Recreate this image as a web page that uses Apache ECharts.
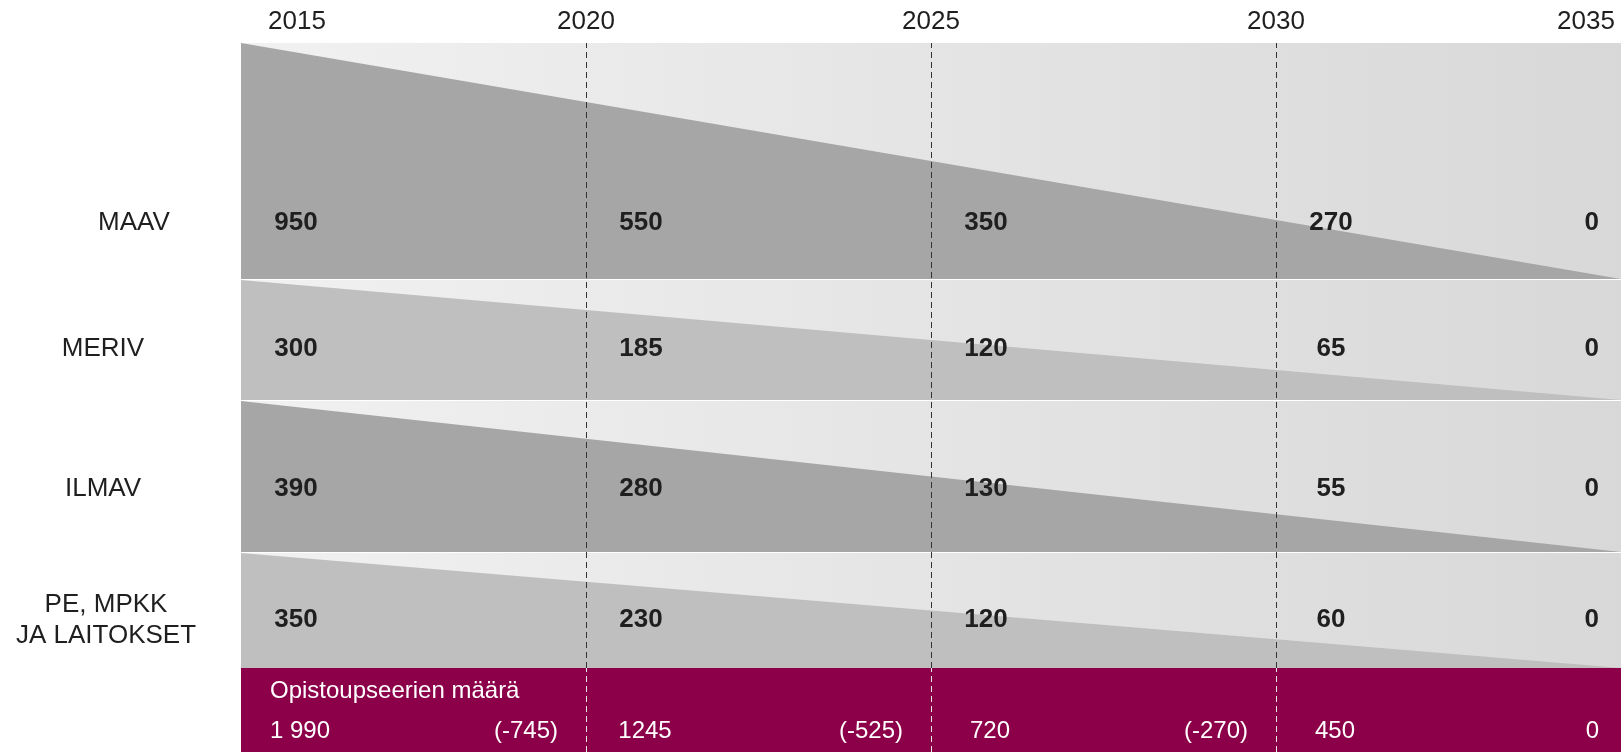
<!DOCTYPE html>
<html><head><meta charset="utf-8">
<script src="https://cdn.jsdelivr.net/npm/echarts@6/dist/echarts.min.js"></script>
<style>html,body{margin:0;padding:0;background:#fff}#c{width:1624px;height:752px}</style>
</head><body><div id="c"></div>
<script>
// ---- data ----
const years = [2015, 2020, 2025, 2030, 2035];
const rowNames = ['MAAV', 'MERIV', 'ILMAV', 'PE, MPKK\nJA LAITOKSET'];
const maav  = [950, 550, 350, 270, 0];
const meriv = [300, 185, 120, 65, 0];
const ilmav = [390, 280, 130, 55, 0];
const pe    = [350, 230, 120, 60, 0];
const totalTitle = 'Opistoupseerien määrä';
const totalLabels = ['1 990', '1245', '720', '450', '0'];
const changes = [-745, -525, -270];

// ---- layout / style ----
const rowValues = [maav, meriv, ilmav, pe];
const FONT = '"Liberation Sans", Arial, sans-serif';
const TXT = '#1f1f1f';
const LEFT = 241, RIGHT = 3;
const bands = [
  {top: 43,  height: 236, color: '#a6a6a6', level: 0.237, nameDx: -107},
  {top: 280, height: 120, color: '#bfbfbf', level: 0.425, nameDx: -138},
  {top: 401, height: 151, color: '#a6a6a6', level: 0.417, nameDx: -138},
  {top: 553, height: 115, color: '#bfbfbf', level: 0.417, nameDx: -135}
];
const bgGrad = {type: 'linear', x: 0, y: 0, x2: 1, y2: 0,
  colorStops: [{offset: 0, color: '#f1f1f1'}, {offset: 1, color: '#d8d8d8'}]};
const PURPLE = '#8c0049';
const dashYears = years.slice(1, -1);
const first = years[0], last = years[years.length - 1];

const grid = [], xAxis = [], yAxis = [], series = [];
function addGrid(g) {
  const i = grid.length;
  grid.push(Object.assign({left: LEFT, right: RIGHT}, g));
  xAxis.push({gridIndex: i, type: 'value', min: first, max: last, show: false});
  yAxis.push({gridIndex: i, type: 'value', min: 0, max: 1, show: false});
  return i;
}
const hiddenDot = {symbolSize: 0, itemStyle: {color: TXT}, silent: true};

bands.forEach((b, i) => {
  const gi = addGrid({top: b.top, height: b.height, show: true, backgroundColor: bgGrad, borderWidth: 0, borderColor: 'transparent'});
  series.push({
    type: 'line', xAxisIndex: gi, yAxisIndex: gi, z: 1, silent: true,
    data: [[first, 1], [last, 0]], symbol: 'none',
    lineStyle: {width: 0}, areaStyle: {color: b.color, opacity: 1}
  });
  series.push(Object.assign({
    type: 'scatter', xAxisIndex: gi, yAxisIndex: gi, z: 3,
    data: years.map((y, j) => ({
      value: [y, b.level],
      label: j < years.length - 1 ? {align: 'center', offset: [55, 0]} : {align: 'right', offset: [-22, 0]}
    })),
    label: {show: true, position: 'inside', verticalAlign: 'middle', color: TXT, opacity: 1,
      textBorderWidth: 0, fontFamily: FONT, fontSize: 26, fontWeight: 'bold',
      formatter: p => String(rowValues[i][p.dataIndex])}
  }, hiddenDot));
  series.push(Object.assign({
    type: 'scatter', xAxisIndex: gi, yAxisIndex: gi, z: 3,
    data: [[first, b.level]],
    label: {show: true, position: 'inside', align: 'center', verticalAlign: 'middle', opacity: 1,
      textBorderWidth: 0, offset: [b.nameDx, 0], color: TXT, fontFamily: FONT, fontSize: 26, lineHeight: 31,
      formatter: () => rowNames[i]}
  }, hiddenDot));
});

// overlay grid with the year axis and dashed lines
const og = addGrid({top: 43, height: 625});
xAxis[og] = {
  gridIndex: og, type: 'value', min: first, max: last, interval: 5, position: 'top',
  axisLine: {show: false}, axisTick: {show: false}, splitLine: {show: false},
  axisLabel: {
    show: true, margin: 8, color: TXT, fontFamily: FONT, fontSize: 26,
    showMinLabel: true, showMaxLabel: true,
    formatter: v => v === first ? '{a|' + v + '}' : (v === last ? '{b|' + v + '}' : String(v)),
    rich: {
      a: {fontFamily: FONT, fontSize: 26, color: TXT, padding: [0, 0, 0, 112]},
      b: {fontFamily: FONT, fontSize: 26, color: TXT, padding: [0, 70, 0, 0]}
    }
  }
};
series.push({
  type: 'line', xAxisIndex: og, yAxisIndex: og, z: 5, silent: true,
  data: [[first, 0], [last, 0]], symbol: 'none', lineStyle: {width: 0, opacity: 0},
  markLine: {silent: true, symbol: ['none', 'none'], label: {show: false}, animation: false,
    lineStyle: {type: [6, 4], color: '#333333', width: 1},
    data: dashYears.map(y => ({xAxis: y}))}
});

// purple totals row
const pg = addGrid({top: 668, bottom: 0, show: true, backgroundColor: PURPLE, borderWidth: 0, borderColor: 'transparent'});
series.push({
  type: 'line', xAxisIndex: pg, yAxisIndex: pg, z: 5, silent: true,
  data: [[first, 0], [last, 0]], symbol: 'none', lineStyle: {width: 0, opacity: 0},
  markLine: {silent: true, symbol: ['none', 'none'], label: {show: false}, animation: false,
    lineStyle: {type: [6, 4], color: '#e6e6e6', width: 1},
    data: dashYears.map(y => ({xAxis: y}))}
});
const whiteLbl = {show: true, position: 'inside', verticalAlign: 'middle', color: '#ffffff', opacity: 1,
  textBorderWidth: 0, fontFamily: FONT, fontSize: 24};
series.push(Object.assign({
  type: 'scatter', xAxisIndex: pg, yAxisIndex: pg, z: 6,
  data: [[first, 0.726]],
  label: Object.assign({}, whiteLbl, {align: 'left', offset: [29, 0], formatter: () => totalTitle})
}, hiddenDot));
series.push(Object.assign({
  type: 'scatter', xAxisIndex: pg, yAxisIndex: pg, z: 6,
  data: years.map((y, j) => ({
    value: [y, 0.25],
    label: j < years.length - 1 ? {align: 'center', offset: [59, 0]} : {align: 'right', offset: [-22, 0]}
  })),
  label: Object.assign({}, whiteLbl, {formatter: p => totalLabels[p.dataIndex]})
}, hiddenDot));
series.push(Object.assign({
  type: 'scatter', xAxisIndex: pg, yAxisIndex: pg, z: 6,
  data: changes.map((c, j) => [years[j + 1], 0.25]),
  label: Object.assign({}, whiteLbl, {align: 'center', offset: [-60, 0],
    formatter: p => '(' + changes[p.dataIndex] + ')'})
}, hiddenDot));

const chart = echarts.init(document.getElementById('c'), null, {renderer: 'canvas'});
chart.setOption({
  animation: false,
  backgroundColor: '#ffffff',
  textStyle: {fontFamily: FONT},
  grid, xAxis, yAxis, series
});
</script>
</body></html>
